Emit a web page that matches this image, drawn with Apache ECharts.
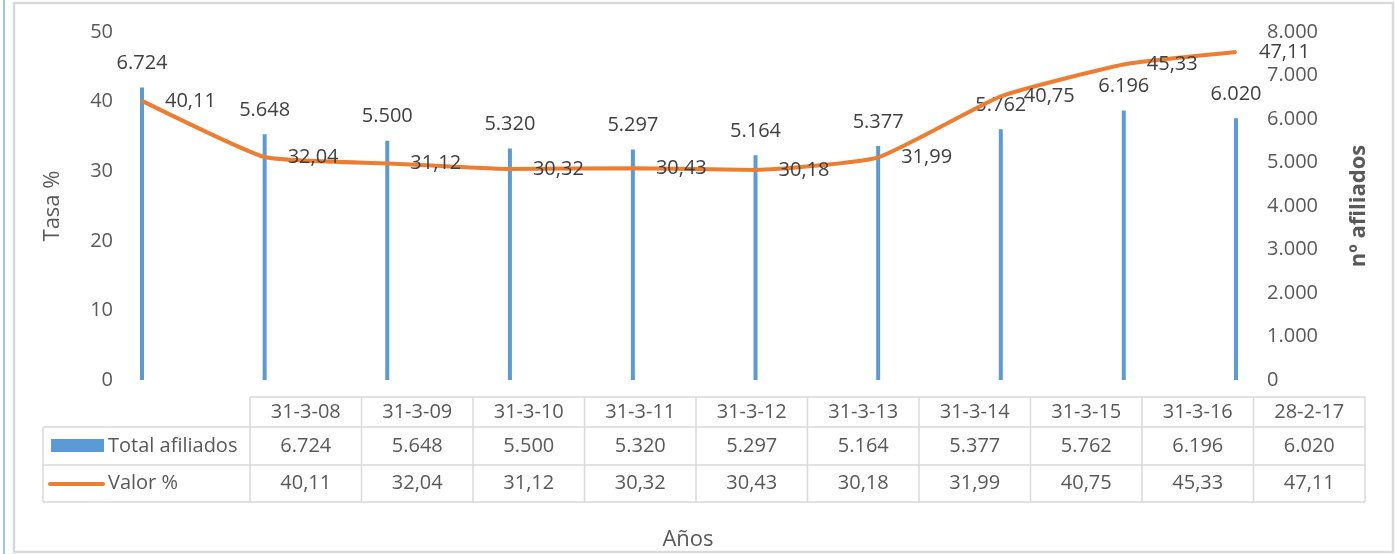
<!DOCTYPE html>
<html><head><meta charset="utf-8">
<script src="https://cdn.jsdelivr.net/npm/echarts@6/dist/echarts.min.js"></script>
<style>html,body{margin:0;padding:0;background:#fff;}#c{width:1395px;height:554px;}</style>
</head><body><div id="c"></div>
<script>
const dates = ['2008-03-31','2009-03-31','2010-03-31','2011-03-31','2012-03-31','2013-03-31','2014-03-31','2015-03-31','2016-03-31','2017-02-28'];
const dateLabels = ['31-3-08','31-3-09','31-3-10','31-3-11','31-3-12','31-3-13','31-3-14','31-3-15','31-3-16','28-2-17'];
const afiliados = [6724,5648,5500,5320,5297,5164,5377,5762,6196,6020];
const valorPct = [40.11,32.04,31.12,30.32,30.43,30.18,31.99,40.75,45.33,47.11];
const leftTicks = [0,10,20,30,40,50];
const rightTicks = [0,1000,2000,3000,4000,5000,6000,7000,8000];

const FONT = 'Open Sans';
const fmtThousand = v => String(v).replace(/\B(?=(\d{3})+(?!\d))/g, '.');
const fmtPct = v => v.toFixed(2).replace('.', ',');

const chart = echarts.init(document.getElementById('c'));

// data table graphic (layout constants)
const T = {left:43, dataLeft:250, colW:111.5, y0:397, y1:427, y2:465, y3:502};
const lineColor = '#d9d9d9';
const g = [];
const right = T.dataLeft + T.colW*dateLabels.length;
const hl = (x1,x2,y) => g.push({type:'line', shape:{x1:x1,y1:y,x2:x2,y2:y}, style:{stroke:lineColor, lineWidth:1.5}, silent:true});
const vl = (x,y1,y2) => g.push({type:'line', shape:{x1:x,y1:y1,x2:x,y2:y2}, style:{stroke:lineColor, lineWidth:1.5}, silent:true});
hl(T.dataLeft, right, T.y0); hl(T.left, right, T.y1); hl(T.left, right, T.y2); hl(T.left, right, T.y3);
vl(T.left, T.y1, T.y3);
for (let i=0;i<=dateLabels.length;i++) vl(T.dataLeft+i*T.colW, T.y0, T.y3);
const txt = (x,y,s,align) => g.push({type:'text', x:x, y:y, style:{text:s, fill:'#595959', font:'20px "'+FONT+'"', textAlign:align||'center', textVerticalAlign:'middle'}, silent:true});
dateLabels.forEach((d,i)=>{
  const cx = T.dataLeft + (i+0.5)*T.colW;
  txt(cx, (T.y0+T.y1)/2, d);
  txt(cx, (T.y1+T.y2)/2, fmtThousand(afiliados[i]));
  txt(cx, (T.y2+T.y3)/2, fmtPct(valorPct[i]));
});
g.push({type:'rect', shape:{x:51,y:439,width:53,height:13}, style:{fill:'#5b9bd5'}, silent:true});
g.push({type:'line', shape:{x1:50,y1:484,x2:103,y2:484}, style:{stroke:'#ed7d31', lineWidth:4, lineCap:'round'}, silent:true});
txt(108, (T.y1+T.y2)/2, 'Total afiliados', 'left');
txt(108, (T.y2+T.y3)/2, 'Valor %', 'left');
g.push({type:'text', x:688, y:540, style:{text:'Años', fill:'#595959', font:'22px "'+FONT+'"', textAlign:'center', textVerticalAlign:'middle'}, silent:true});
// chart frame
g.push({type:'rect', shape:{x:14,y:3,width:1379,height:549}, style:{fill:'none', stroke:'#d9d9d9', lineWidth:2.5}, silent:true, z:-1});
g.push({type:'line', shape:{x1:4,y1:0,x2:4,y2:554}, style:{stroke:'#9dc3e6', lineWidth:2}, silent:true});

chart.setOption({
  animation:false,
  textStyle:{fontFamily:FONT},
  grid:{left:140, right:157, top:32, bottom:174},
  xAxis:{type:'time', min:dates[0], max:dates[dates.length-1], show:false},
  yAxis:[
    {type:'value', min:leftTicks[0], max:leftTicks[leftTicks.length-1], interval:10,
     name:'Tasa %', nameLocation:'middle', nameGap:76, nameRotate:90,
     nameTextStyle:{color:'#595959', fontSize:22, fontFamily:FONT},
     axisLine:{show:false}, axisTick:{show:false}, splitLine:{show:false},
     axisLabel:{color:'#595959', fontSize:20, margin:27, fontFamily:FONT}},
    {type:'value', min:rightTicks[0], max:rightTicks[rightTicks.length-1], interval:1000, position:'right',
     name:'nº afiliados', nameLocation:'middle', nameGap:110, nameRotate:90,
     nameTextStyle:{color:'#595959', fontSize:22, fontWeight:'bold', fontFamily:FONT},
     axisLine:{show:false}, axisTick:{show:false}, splitLine:{show:false},
     axisLabel:{color:'#595959', fontSize:20, margin:29, fontFamily:FONT, formatter:v=>fmtThousand(v)}}
  ],
  series:[
    {type:'bar', name:'Total afiliados', yAxisIndex:1, barWidth:4,
     itemStyle:{color:'#5b9bd5'},
     data:dates.map((d,i)=>[d, afiliados[i]]),
     label:{show:true, position:'top', distance:14, color:'#404040', fontSize:20, fontFamily:FONT,
            formatter:p=>fmtThousand(p.value[1])}},
    {type:'line', name:'Valor %', yAxisIndex:0, smooth:0.15, symbol:'circle', symbolSize:2, showSymbol:true,
     lineStyle:{color:'#ed7d31', width:4}, itemStyle:{color:'#ed7d31'},
     data:dates.map((d,i)=>[d, valorPct[i]]),
     labelLayout:{hideOverlap:false},
     label:{show:true, position:'right', distance:22, offset:[0,4], color:'#404040', fontSize:20, fontFamily:FONT,
            formatter:p=>fmtPct(p.value[1])}, z:3}
  ],
  graphic:g
});
</script></body></html>
